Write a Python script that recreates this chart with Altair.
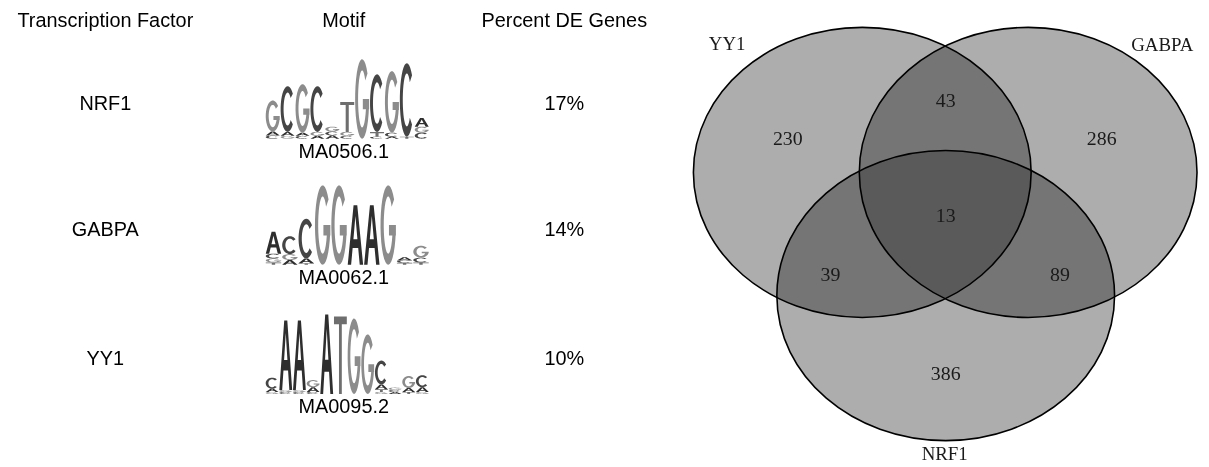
import altair as alt
import numpy as np
import pandas as pd

# ---------------- data ----------------
headers = ["Transcription Factor", "Motif", "Percent DE Genes"]
factors = ["NRF1", "GABPA", "YY1"]
motif_ids = ["MA0506.1", "MA0062.1", "MA0095.2"]
percent_de = [17, 14, 10]

# sequence logo columns, each a stack of (letter, bits) from bottom to top
nrf1_logo = [
    [("C", 0.08), ("A", 0.10), ("G", 0.78)],
    [("G", 0.07), ("A", 0.10), ("C", 1.15)],
    [("C", 0.07), ("A", 0.08), ("G", 1.22)],
    [("A", 0.07), ("G", 0.10), ("C", 1.15)],
    [("A", 0.08), ("C", 0.10), ("G", 0.12)],
    [("C", 0.07), ("G", 0.10), ("T", 0.75)],
    [("G", 2.00)],
    [("C", 0.05), ("T", 0.12), ("C", 1.45)],
    [("A", 0.05), ("C", 0.10), ("G", 1.55)],
    [("T", 0.05), ("C", 1.85)],
    [("C", 0.15), ("G", 0.15), ("A", 0.22)],
]
gabpa_logo = [
    [("T", 0.06), ("G", 0.10), ("C", 0.12), ("A", 0.55)],
    [("A", 0.12), ("G", 0.15), ("C", 0.45)],
    [("T", 0.04), ("A", 0.12), ("C", 1.00)],
    [("G", 2.00)],
    [("G", 2.00)],
    [("A", 1.50)],
    [("A", 1.50)],
    [("G", 2.00)],
    [("T", 0.05), ("C", 0.06), ("A", 0.08)],
    [("T", 0.06), ("C", 0.12), ("G", 0.30)],
]
yy1_logo = [
    [("G", 0.05), ("A", 0.08), ("C", 0.28)],
    [("C", 0.05), ("G", 0.05), ("A", 1.75)],
    [("C", 0.05), ("G", 0.05), ("A", 1.75)],
    [("C", 0.05), ("A", 0.12), ("G", 0.18)],
    [("A", 2.00)],
    [("T", 1.95)],
    [("G", 1.90)],
    [("G", 1.50)],
    [("G", 0.05), ("T", 0.07), ("A", 0.12), ("C", 0.60)],
    [("A", 0.05), ("C", 0.05), ("G", 0.06)],
    [("T", 0.05), ("A", 0.10), ("G", 0.30)],
    [("G", 0.05), ("A", 0.12), ("C", 0.30)],
]
logos = [nrf1_logo, gabpa_logo, yy1_logo]

venn_sets = ["YY1", "GABPA", "NRF1"]
venn_regions = ["YY1 only", "GABPA only", "NRF1 only", "YY1+GABPA",
                "YY1+NRF1", "GABPA+NRF1", "all three"]
venn_counts = [230, 286, 386, 43, 39, 89, 13]

# ---------------- layout (page pixels) ----------------
W, H = 1193, 451
row_y = [103, 230, 360]
col_x = [106, 346, 568]
header_y = 20
logo_left, logo_right = 267, 432
baseline_off, id_off, px_per_bit = 35, 48, 40

ell_cx = [868, 1035, 952]
ell_cy = [172, 172, 296]
ell_rx, ell_ry = 170, 146
set_lab_x = [732, 1170, 951]
set_lab_y = [43, 44, 455]
region_x = [793, 1109, 952, 952, 836, 1067, 952]
region_y = [138, 138, 375, 100, 275, 275, 216]

letter_color = {"A": "#2e2e2e", "C": "#454545", "G": "#8c8c8c", "T": "#6e6e6e"}


# ---------------- glyph geometry ----------------
def arc_pts(cx, cy, rx, ry, a0, a1, n=30):
    t = np.radians(np.linspace(a0, a1, n))
    return list(zip(cx + rx * np.cos(t), cy + ry * np.sin(t)))


def glyph_polys(letter, h):
    if letter == "A":
        return [[(0, 0), (0.22, 0), (0.32, 0.28), (0.68, 0.28), (0.78, 0), (1, 0), (0.62, 1), (0.38, 1)],
                [(0.37, 0.43), (0.5, 0.82), (0.63, 0.43)]]
    if letter == "T":
        b = 1 - min(0.3, max(0.1, 2.0 / max(h, 1e-6)))
        return [[(0.39, 0), (0.61, 0), (0.61, b), (1, b), (1, 1), (0, 1), (0, b), (0.39, b)]]
    if letter == "C":
        return [arc_pts(0.5, 0.5, 0.5, 0.5, 42, 318) + arc_pts(0.5, 0.5, 0.29, 0.36, 318, 42)]
    return [arc_pts(0.5, 0.5, 0.5, 0.5, 40, 360) + arc_pts(0.5, 0.5, 0.29, 0.36, 360, 40),
            [(0.55, 0.37), (1, 0.37), (1, 0.5), (0.55, 0.5)]]


def glyph_path(letter, w, h):
    parts = []
    for poly in glyph_polys(letter, h):
        pts = " L".join(f"{px * w:.2f},{-py * h:.2f}" for px, py in poly)
        parts.append("M" + pts + " Z")
    return " ".join(parts)


def ellipse_path(rx, ry):
    return (f"M{-rx},0 A{rx},{ry} 0 1,0 {rx},0 "
            f"A{rx},{ry} 0 1,0 {-rx},0 Z")


# ---------------- tables ----------------
rows = []
for lg, ry in zip(logos, row_y):
    colw = (logo_right - logo_left) / len(lg)
    base = ry + baseline_off
    for ci, stack in enumerate(lg):
        cum = 0.0
        for letter, bits in stack:
            h = bits * px_per_bit
            rows.append({
                "x": logo_left + ci * colw + colw * 0.03,
                "y": base - cum * px_per_bit,
                "path": glyph_path(letter, colw * 0.94, h),
                "col": letter_color[letter],
            })
            cum += bits
letters_df = pd.DataFrame(rows)

sans_rows = [{"x": cx, "y": header_y, "t": t} for cx, t in zip(col_x, headers)]
for f, m, p, ry in zip(factors, motif_ids, percent_de, row_y):
    sans_rows.append({"x": col_x[0], "y": ry, "t": f})
    sans_rows.append({"x": col_x[1], "y": ry + id_off, "t": m})
    sans_rows.append({"x": col_x[2], "y": ry, "t": f"{p}%"})
sans_df = pd.DataFrame(sans_rows)

ell_df = pd.DataFrame({"set": venn_sets, "x": ell_cx, "y": ell_cy,
                       "path": [ellipse_path(ell_rx, ell_ry)] * 3})
lab_df = pd.DataFrame({"t": venn_sets, "x": set_lab_x, "y": set_lab_y})
cnt_df = pd.DataFrame({"region": venn_regions, "t": [str(c) for c in venn_counts],
                       "x": region_x, "y": region_y})

# ---------------- chart ----------------
xs = alt.Scale(domain=[8, 8 + W], nice=False, zero=False)
ys = alt.Scale(domain=[8, 8 + H], reverse=True, nice=False, zero=False)


def pos():
    return dict(x=alt.X("x:Q", scale=xs, axis=None),
                y=alt.Y("y:Q", scale=ys, axis=None))


shape_enc = alt.Shape("path:N", scale=None, legend=None)

ell_fill = alt.Chart(ell_df).mark_point(
    filled=True, size=4, opacity=1, fill="black", fillOpacity=0.32, strokeWidth=0
).encode(shape=shape_enc, **pos())

ell_clamp = alt.Chart(ell_df).mark_point(
    filled=True, size=4, opacity=1, fill="#5a5a5a", blend="lighten", strokeWidth=0
).encode(shape=shape_enc, **pos())

ell_line = alt.Chart(ell_df).mark_point(
    filled=False, size=4, opacity=1, stroke="black", strokeWidth=1.6
).encode(shape=shape_enc, **pos())

counts = alt.Chart(cnt_df).mark_text(
    font="Liberation Serif", fontSize=20, color="#1a1a1a", align="center", baseline="middle"
).encode(text="t:N", **pos())

set_labels = alt.Chart(lab_df).mark_text(
    font="Liberation Serif", fontSize=19, color="#1a1a1a", align="center", baseline="middle"
).encode(text="t:N", **pos())

sans_text = alt.Chart(sans_df).mark_text(
    font="Liberation Sans", fontSize=20, color="black", align="center", baseline="middle"
).encode(text="t:N", **pos())

letters = alt.Chart(letters_df).mark_point(
    filled=True, size=4, opacity=1, strokeWidth=0
).encode(shape=shape_enc, fill=alt.Fill("col:N", scale=None, legend=None), **pos())

chart = alt.layer(
    ell_fill, ell_clamp, ell_line, counts, set_labels, sans_text, letters
).properties(width=W, height=H, padding=0, background="white").configure_view(
    strokeWidth=0
)

chart.save("out.html", embed_options={"renderer": "svg", "actions": False})
